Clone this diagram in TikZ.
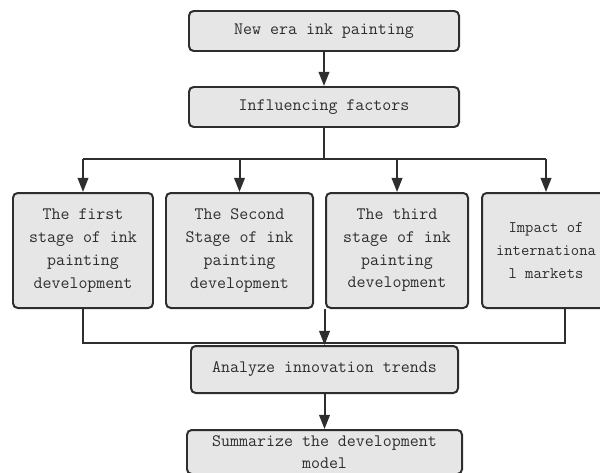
\documentclass[tikz,border=0pt]{standalone}
\usepackage{tikz}
\usepackage{xcolor}
\usetikzlibrary{arrows.meta}

\definecolor{boxfill}{HTML}{E6E6E6}
\definecolor{boxline}{HTML}{2E2E2E}

\tikzset{
    box/.style={draw=boxline, fill=boxfill, line width=1.7pt, rounded corners=4pt,
        align=center, inner sep=0pt, text=boxline,
        font=\ttfamily\fontsize{14.9}{19.4}\selectfont},
    wire/.style={draw=boxline, line width=1.7pt},
}

\begin{document}
\begin{tikzpicture}[x=0.03cm, y=-0.03cm, >={Triangle[width=9pt,length=12pt]}]
    \useasboundingbox (0,0) rectangle (600,472);

    % Top boxes
    \node [box, minimum width=270*0.03cm, minimum height=40*0.03cm] (era) at (324, 31) {New era ink painting};
    \node [box, minimum width=270*0.03cm, minimum height=40*0.03cm] (factors) at (324, 107) {Influencing factors};

    % Stage boxes
    \node [box, minimum width=140*0.03cm, minimum height=115*0.03cm] (first) at (83, 250.5)
        {The first\\stage of ink\\painting\\development};
    \node [box, minimum width=147*0.03cm, minimum height=115*0.03cm] (second) at (239.5, 250.5)
        {The Second\\Stage of ink\\painting\\development};
    \node [box, minimum width=142*0.03cm, minimum height=115*0.03cm] (third) at (397, 250.5)
        {The third\\stage of ink\\painting\\development};
    \node [box, minimum width=128*0.03cm, minimum height=115*0.03cm,
        font=\ttfamily\fontsize{13.8}{19.4}\selectfont] (market) at (546, 250.5)
        {Impact of\\internationa\\l markets};

    % Bottom boxes
    \node [box, minimum width=267*0.03cm, minimum height=47*0.03cm] (trends) at (324.5, 369.5) {Analyze innovation trends};
    \node [box, minimum width=275*0.03cm, minimum height=44*0.03cm] (model) at (324.5, 452)
        {Summarize the development\\model};

    % Upper connectors
    \draw [wire, ->] (era) -- (factors);
    \coordinate (top bus) at (324, 159);
    \draw [wire] (factors) -- (top bus);
    \draw [wire] (first.north |- top bus) -- (market.north |- top bus);
    \foreach \n in {first, second, third, market}
        \draw [wire, ->] (\n.north |- top bus) -- (\n.north);

    % Lower connectors
    \coordinate (low bus) at (324, 343);
    \coordinate (market out) at (565, 308);
    \draw [wire] (first.south) -- (first.south |- low bus) -- (market out |- low bus) -- (market out);
    \draw [wire, ->] (trends.north |- third.south) -- (trends.north);
    \draw [wire, ->] (trends) -- (model);
\end{tikzpicture}
\end{document}
